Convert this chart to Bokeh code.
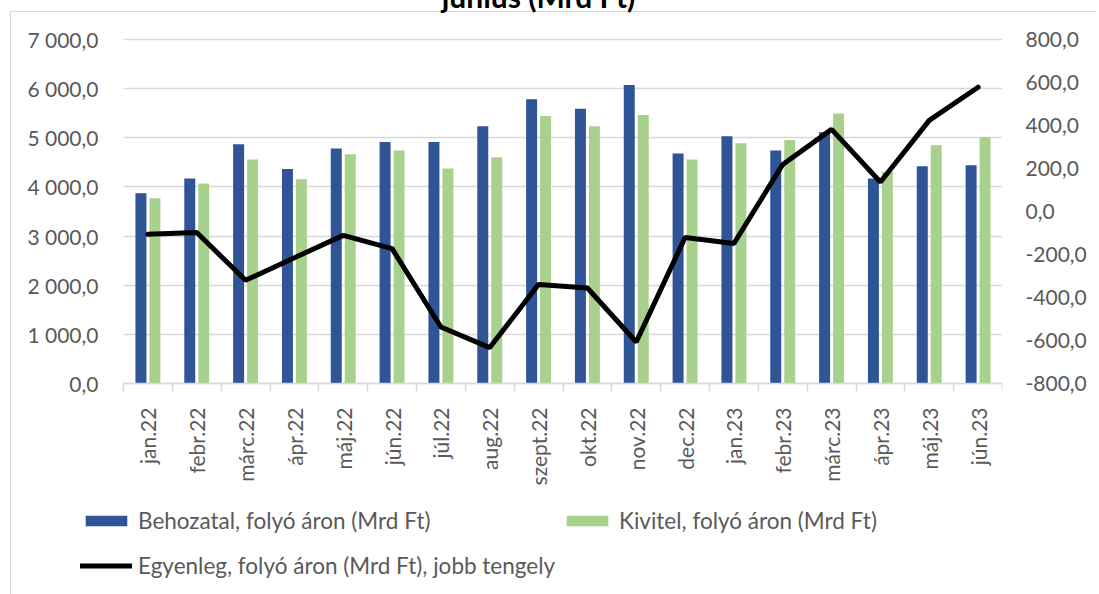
from bokeh.plotting import figure
from bokeh.models import (Range1d, LinearAxis, FixedTicker, Legend, LegendItem, Label,
                          ColumnDataSource, Grid)
from bokeh.transform import dodge
from bokeh.embed import file_html
from bokeh.resources import INLINE

months = ["jan.22", "febr.22", "márc.22", "ápr.22", "máj.22", "jún.22", "júl.22", "aug.22",
          "szept.22", "okt.22", "nov.22", "dec.22", "jan.23", "febr.23", "márc.23", "ápr.23",
          "máj.23", "jún.23"]
behozatal = [3871, 4169, 4868, 4366, 4780, 4915, 4915, 5234, 5783, 5593, 6075, 4678, 5031,
             4739, 5112, 4169, 4420, 4441]
kivitel = [3770, 4068, 4556, 4156, 4664, 4739, 4373, 4603, 5444, 5234, 5464, 4556, 4888,
           4956, 5492, 4305, 4847, 5017]
egyenleg = [-106, -98, -320, -215, -111, -173, -537, -633, -339, -356, -607, -121, -149,
            219, 382, 137, 424, 578]

left_ticks = [0, 1000, 2000, 3000, 4000, 5000, 6000, 7000]
left_labels = ["0,0", "1 000,0", "2 000,0", "3 000,0", "4 000,0", "5 000,0", "6 000,0", "7 000,0"]
right_ticks = [-800, -600, -400, -200, 0, 200, 400, 600, 800]
right_labels = ["-800,0", "-600,0", "-400,0", "-200,0", "0,0", "200,0", "400,0", "600,0", "800,0"]

title_text = "június (Mrd Ft)"
name_beh = "Behozatal, folyó áron (Mrd Ft)"
name_kiv = "Kivitel, folyó áron (Mrd Ft)"
name_egy = "Egyenleg, folyó áron (Mrd Ft), jobb tengely"

BLUE = "#2F5597"
GREEN = "#A9D18E"
GRID = "#D9D9D9"
TXT = "#595959"
FONT = "Lato"
FS = "21px"
FS_LEG = "22.5px"

# ---- layout (page pixels) ----
W, H = 1096, 606          # figure is shifted 12px up so the cut title fits
SHIFT = 12
FRAME_L, FRAME_R = 11, 1002   # frame edges (page x)
FRAME_T, FRAME_B = -SHIFT, 592  # frame edges (page y)
CAT_L = 123                   # left edge of the category area (page x)
TOP_PAGE = 39                 # page y of 7000 / 800
Y0_PAGE = 383                 # page y of 0 / -800
n = len(months)
px_cat = (FRAME_R - CAT_L) / n
u_left = (left_ticks[-1] - left_ticks[0]) / (Y0_PAGE - TOP_PAGE)
u_right = (right_ticks[-1] - right_ticks[0]) / (Y0_PAGE - TOP_PAGE)

x_start = -0.5 - (CAT_L - FRAME_L) / px_cat
y_start = left_ticks[0] - (FRAME_B - Y0_PAGE) * u_left
y_end = left_ticks[-1] + (TOP_PAGE - FRAME_T) * u_left
r_start = right_ticks[0] - (FRAME_B - Y0_PAGE) * u_right
r_end = right_ticks[-1] + (TOP_PAGE - FRAME_T) * u_right

idx = list(range(n))
src = ColumnDataSource(dict(x=idx, beh=behozatal, kiv=kivitel, egy=egyenleg))

p = figure(width=W, height=H, output_backend="svg", toolbar_location=None,
           x_range=Range1d(x_start, n - 0.5), y_range=Range1d(y_start, y_end),
           min_border_left=FRAME_L, min_border_right=W - FRAME_R,
           min_border_top=0, min_border_bottom=H - (FRAME_B + SHIFT))
p.styles = {
    "margin-top": f"-{SHIFT}px",
    "background": ("linear-gradient(#D9D9D9,#D9D9D9) 10px 23px / 1px 100% no-repeat, "
                   "linear-gradient(#D9D9D9,#D9D9D9) 10px 23px / 100% 1px no-repeat, white"),
}
p.extra_y_ranges = {"right": Range1d(r_start, r_end)}
p.outline_line_color = None
p.background_fill_color = None
p.border_fill_color = None

# x axis, drawn at value 0
xa = p.xaxis[0]
xa.fixed_location = 0
xa.bounds = (-0.5, n - 0.5)
xa.ticker = FixedTicker(ticks=idx, minor_ticks=[i - 0.5 for i in range(n + 1)])
xa.major_label_overrides = {i: m for i, m in zip(idx, months)}
xa.major_label_orientation = 3.14159265 / 2
xa.major_tick_out = 0
xa.major_tick_in = 0
xa.minor_tick_out = 8
xa.minor_tick_in = 0
xa.minor_tick_line_color = GRID
xa.minor_tick_line_width = 1.5
xa.axis_line_color = GRID
xa.axis_line_width = 1.5
xa.major_label_standoff = 16
xa.major_label_text_font = FONT
xa.major_label_text_font_size = FS
xa.major_label_text_color = TXT

# left axis, drawn at the left edge of the categories
ya = p.yaxis[0]
ya.fixed_location = -0.5
ya.ticker = FixedTicker(ticks=left_ticks)
ya.major_label_overrides = {t: l for t, l in zip(left_ticks, left_labels)}
ya.axis_line_color = None
ya.major_tick_line_color = None
ya.minor_tick_line_color = None
ya.major_label_standoff = 19
ya.major_label_text_font = FONT
ya.major_label_text_font_size = FS
ya.major_label_text_color = TXT

# right axis
ra = LinearAxis(y_range_name="right", ticker=FixedTicker(ticks=right_ticks))
ra.major_label_overrides = {t: l for t, l in zip(right_ticks, right_labels)}
ra.axis_line_color = None
ra.major_tick_line_color = None
ra.minor_tick_line_color = None
ra.major_label_standoff = 17
ra.major_label_text_font = FONT
ra.major_label_text_font_size = FS
ra.major_label_text_color = TXT
p.add_layout(ra, "right")

p.xgrid.grid_line_color = None
if "cross_bounds" in Grid.properties():
    p.ygrid.ticker = FixedTicker(ticks=left_ticks)
    p.ygrid.cross_bounds = (-0.5, n - 0.5)
    p.ygrid.grid_line_color = GRID
    p.ygrid.grid_line_width = 1.5
else:
    p.ygrid.grid_line_color = None
    p.segment(x0=[-0.5] * len(left_ticks), x1=[n - 0.5] * len(left_ticks),
              y0=left_ticks, y1=left_ticks, line_color=GRID, line_width=1.5)

rb = p.vbar(x=dodge("x", -0.143, range=p.x_range), top="beh", width=0.225, source=src,
            fill_color=BLUE, line_color=None)
rk = p.vbar(x=dodge("x", 0.143, range=p.x_range), top="kiv", width=0.225, source=src,
            fill_color=GREEN, line_color=None)
rl = p.line(x="x", y="egy", source=src, y_range_name="right", line_color="black",
            line_width=5, line_cap="round")

# title (cut off at the top like the original)
p.add_layout(Label(x=(538 - CAT_L) / px_cat - 0.5, y=(Y0_PAGE + 5) * u_left, text=title_text,
                   text_align="center", text_baseline="alphabetic", text_font=FONT,
                   text_font_style="bold", text_font_size="30px", text_color="black"))


def mk_legend(item_label, rend, loc):
    return Legend(items=[LegendItem(label=item_label, renderers=[rend])], location=loc,
                  padding=0, margin=0, spacing=0, border_line_color=None,
                  background_fill_alpha=0, glyph_width=52, glyph_height=13,
                  label_standoff=6, label_text_font=FONT, label_text_font_size=FS_LEG,
                  label_text_color=TXT)


p.add_layout(mk_legend(name_beh, rb, (80 - FRAME_L, 58)))
p.add_layout(mk_legend(name_kiv, rk, (561 - FRAME_L, 58)))
p.add_layout(mk_legend(name_egy, rl, (80 - FRAME_L, 13)))

open("out.html", "w").write(file_html(p, INLINE))
